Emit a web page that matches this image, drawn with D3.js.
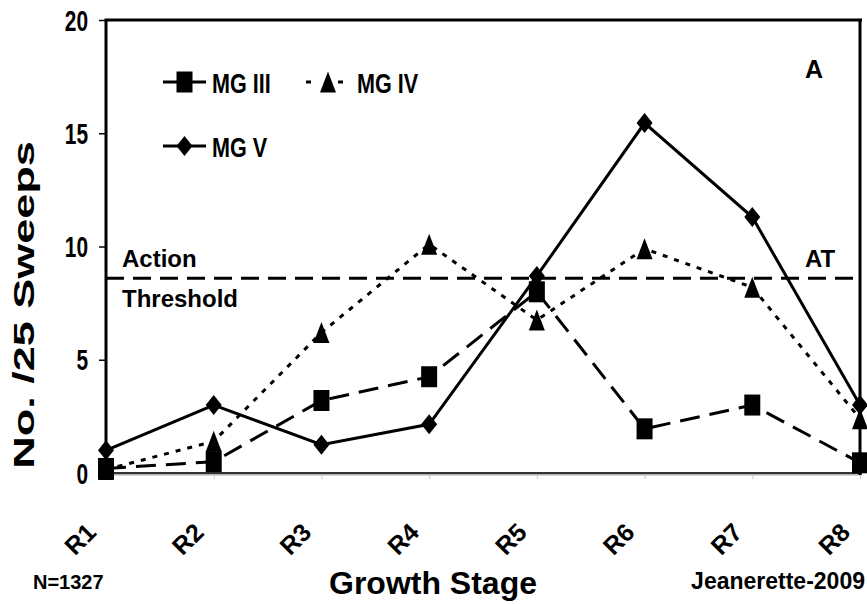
<!DOCTYPE html>
<html>
<head>
<meta charset="utf-8">
<script src="https://cdn.jsdelivr.net/npm/d3@7"></script>
<style>
  html, body { margin: 0; padding: 0; background: #fff; }
  svg { display: block; }
  text { font-family: "Liberation Sans", Arial, sans-serif; font-weight: bold; fill: #000; }
</style>
</head>
<body>
<svg id="chart" width="867" height="604"></svg>
<script>
// ---- data ----
const stages = ["R1", "R2", "R3", "R4", "R5", "R6", "R7", "R8"];
const mgIII = [0.2, 0.5, 3.2, 4.25, 8.0, 1.95, 3.0, 0.45];
const mgIV  = [0.15, 1.4, 6.2, 10.1, 6.75, 9.9, 8.2, 2.4];
const mgV   = [1.0, 3.0, 1.25, 2.15, 8.7, 15.45, 11.3, 3.0];
const actionThreshold = 8.6;
const yTicks = [0, 5, 10, 15, 20];

// ---- layout ----
const svg = d3.select("#chart");
const pLeft = 106, pRight = 860, pTop = 20, pBottom = 473;

const x = d3.scalePoint().domain(stages).range([pLeft, pRight]).padding(0);
const y = d3.scaleLinear().domain([0, 20]).range([pBottom, pTop]);

// bottom axis line (grey)
svg.append("line").attr("x1", pLeft).attr("x2", pRight + 2).attr("y1", pBottom + 1.5).attr("y2", pBottom + 1.5)
  .attr("stroke", "#b0b0b0").attr("stroke-width", 2);
svg.append("line").attr("x1", pLeft).attr("x2", pRight + 2).attr("y1", pBottom).attr("y2", pBottom)
  .attr("stroke", "#333").attr("stroke-width", 2);

// x axis
const xAxis = svg.append("g").attr("transform", `translate(0,${pBottom + 2})`)
  .call(d3.axisBottom(x).tickSize(4).tickPadding(0));
xAxis.attr("font-size", 25);
xAxis.select(".domain").remove();
xAxis.selectAll(".tick line").attr("stroke", "#c8c8c8").attr("stroke-width", 1);
xAxis.selectAll(".tick text")
  .attr("text-anchor", "end")
  .attr("x", 0).attr("y", 0).attr("dy", 0)
  .attr("transform", "translate(-9,59) rotate(-45)")
  .style("font-size", "25px")
  .style("font-family", "Liberation Sans, Arial, sans-serif")
  .style("font-weight", "bold");

// y axis
const yAxis = svg.append("g").attr("transform", `translate(${pLeft},0)`)
  .call(d3.axisLeft(y).tickValues(yTicks).tickSize(7).tickFormat(d3.format("d")));
yAxis.select(".domain").remove();
yAxis.selectAll(".tick line").attr("stroke", "#000").attr("stroke-width", 1.5);
yAxis.selectAll(".tick text")
  .attr("text-anchor", "end")
  .attr("x", -25).attr("dy", "0.35em")
  .attr("transform", "scale(0.72,1)")
  .style("font-size", "29px")
  .style("font-family", "Liberation Sans, Arial, sans-serif")
  .style("font-weight", "bold");

// frame: left, top, right
svg.append("path")
  .attr("d", `M${pLeft},${pBottom} V${pTop} H${pRight + 2} M${pRight},${pTop} V${pBottom + 2}`)
  .attr("fill", "none").attr("stroke", "#000").attr("stroke-width", 3);

// ---- series ----
const line = d3.line().x((d, i) => x(stages[i])).y(d => y(d));

const series = [
  { name: "MG III", values: mgIII, dash: "20,10", marker: "square" },
  { name: "MG IV",  values: mgIV,  dash: "5,7",   marker: "triangle" },
  { name: "MG V",   values: mgV,   dash: null,    marker: "diamond" }
];

function markerPath(type) {
  if (type === "square") return "M-8,-10.5H8V10.5H-8Z";
  if (type === "triangle") return "M0,-10.5L8,10.5H-8Z";
  return "M0,-10L8,0L0,10L-8,0Z";
}

series.forEach(s => {
  svg.append("path").datum(s.values)
    .attr("d", line)
    .attr("fill", "none").attr("stroke", "#000").attr("stroke-width", 3)
    .attr("stroke-dasharray", s.dash);
  svg.append("g").selectAll("path").data(s.values).join("path")
    .attr("transform", (d, i) => `translate(${x(stages[i])},${y(d)})`)
    .attr("d", markerPath(s.marker))
    .attr("fill", "#000");
});

// action threshold
svg.append("line")
  .attr("x1", pLeft).attr("x2", pRight - 4)
  .attr("y1", y(actionThreshold)).attr("y2", y(actionThreshold))
  .attr("stroke", "#000").attr("stroke-width", 3).attr("stroke-dasharray", "18,9");

// ---- legend ----
const legendItems = [
  { s: series[0], lx: 163, ly: 82, tx: 212 },
  { s: series[1], lx: 306, ly: 82, tx: 357 },
  { s: series[2], lx: 163, ly: 146, tx: 212 }
];
legendItems.forEach(it => {
  const w = it.s.marker === "triangle" ? 38 : 43;
  svg.append("line").attr("x1", it.lx).attr("x2", it.lx + w).attr("y1", it.ly).attr("y2", it.ly)
    .attr("stroke", "#000").attr("stroke-width", 3).attr("stroke-dasharray", it.s.marker === "triangle" ? "5,27" : null);
  svg.append("path").attr("transform", `translate(${it.lx + (it.s.marker === "triangle" ? 22 : 21.5)},${it.ly})`)
    .attr("d", markerPath(it.s.marker)).attr("fill", "#000");
  svg.append("text").attr("transform", `translate(${it.tx},${it.ly + 11}) scale(0.8,1)`)
    .attr("font-size", 27).text(it.s.name);
});

// ---- texts ----
svg.append("text").attr("transform", "translate(34,305) scale(0.64,1) rotate(-90)")
  .attr("text-anchor", "middle").attr("font-size", 45).text("No. /25 Sweeps");

svg.append("text").attr("x", 433).attr("y", 594).attr("text-anchor", "middle")
  .attr("font-size", 32).text("Growth Stage");
svg.append("text").attr("x", 33).attr("y", 589).attr("font-size", 20).text("N=1327");
svg.append("text").attr("x", 865).attr("y", 589).attr("text-anchor", "end")
  .attr("font-size", 23).text("Jeanerette-2009");

svg.append("text").attr("x", 805).attr("y", 78).attr("font-size", 25).text("A");
svg.append("text").attr("x", 122).attr("y", 267).attr("font-size", 24).text("Action");
svg.append("text").attr("x", 122).attr("y", 307).attr("font-size", 24).text("Threshold");
svg.append("text").attr("x", 805).attr("y", 267).attr("font-size", 24).text("AT");
</script>
</body>
</html>
